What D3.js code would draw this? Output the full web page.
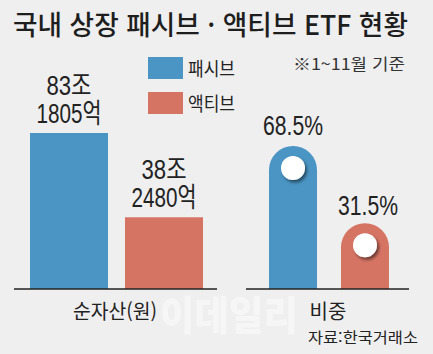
<!DOCTYPE html>
<html lang="ko">
<head>
<meta charset="UTF-8">
<script src="https://d3js.org/d3.v7.min.js"></script>
<style>
  body { margin: 0; background: #efefef; }
  svg { display: block; font-family: "Noto Sans CJK KR", sans-serif; }
</style>
</head>
<body>
<svg id="chart" width="433" height="354"></svg>
<script>
// values
const categories = ["패시브", "액티브"];
const assets = [83.1805, 38.248];           // 순자산, 조원
const assetLabels = [["83조", "1805억"], ["38조", "2480억"]];
const shares = [68.5, 31.5];                // 비중, %
const shareLabels = ["68.5%", "31.5%"];
const colors = ["#4a95c4", "#d67464"];

const svg = d3.select("#chart");
const baseY = 289;
const numFont = "'Liberation Sans', 'Noto Sans CJK KR', sans-serif";

// drop shadow for the white knobs
const defs = svg.append("defs");
const f = defs.append("filter").attr("id", "sh").attr("x", "-50%").attr("y", "-50%").attr("width", "200%").attr("height", "200%");
f.append("feDropShadow").attr("dx", 2).attr("dy", 2.5).attr("stdDeviation", 1.8).attr("flood-color", "#000").attr("flood-opacity", 0.5);

// title
svg.append("text").attr("x", 13).attr("y", 35)
  .attr("font-size", 27).attr("font-weight", 500).attr("fill", "#1e1e1e")
  .attr("textLength", 395).attr("lengthAdjust", "spacingAndGlyphs")
  .text("국내 상장 패시브 · 액티브 ETF 현황");

svg.append("text").attr("x", 293).attr("y", 70)
  .attr("font-size", 16).attr("fill", "#333")
  .attr("textLength", 112).attr("lengthAdjust", "spacingAndGlyphs")
  .text("※1~11월 기준");

// legend
const leg = svg.append("g");
categories.forEach((c, i) => {
  leg.append("rect").attr("x", 148).attr("y", 57 + i * 35).attr("width", 35).attr("height", 22).attr("fill", colors[i]);
  leg.append("text").attr("x", 188).attr("y", 76 + i * 35)
    .attr("font-size", 19).attr("fill", "#222")
    .attr("textLength", 47).attr("lengthAdjust", "spacingAndGlyphs").text(c);
});

// watermark
svg.append("text").attr("x", 229).attr("y", 330).attr("text-anchor", "middle")
  .attr("font-size", 40).attr("font-weight", 900).attr("fill", "#fff").attr("opacity", 0.45)
  .attr("textLength", 138).attr("lengthAdjust", "spacingAndGlyphs")
  .text("이데일리");

// left panel: net assets
const x1 = d3.scaleBand().domain(categories).range([30, 203]).paddingInner(0.179);
const y1 = d3.scaleLinear().domain([0, d3.max(assets)]).range([baseY, 133]);

svg.append("g").selectAll("rect").data(assets).join("rect")
  .attr("x", (d, i) => x1(categories[i]))
  .attr("y", d => y1(d))
  .attr("width", x1.bandwidth())
  .attr("height", d => baseY - y1(d))
  .attr("fill", (d, i) => colors[i]);

assets.forEach((d, i) => {
  const cx = x1(categories[i]) + x1.bandwidth() / 2;
  const top = y1(d);
  svg.append("text").attr("x", cx).attr("y", top - 38).attr("text-anchor", "middle")
    .attr("font-family", numFont).attr("font-size", 27).attr("fill", "#222")
    .attr("textLength", 45).attr("lengthAdjust", "spacingAndGlyphs")
    .text(assetLabels[i][0]);
  svg.append("text").attr("x", cx).attr("y", top - 10).attr("text-anchor", "middle")
    .attr("font-family", numFont).attr("font-size", 27).attr("fill", "#222")
    .attr("textLength", 65).attr("lengthAdjust", "spacingAndGlyphs")
    .text(assetLabels[i][1]);
});

svg.append("line").attr("x1", 14).attr("x2", 217).attr("y1", baseY).attr("y2", baseY)
  .attr("stroke", "#222").attr("stroke-width", 1.5);

svg.append("text").attr("x", 115).attr("y", 319).attr("text-anchor", "middle")
  .attr("font-size", 20).attr("fill", "#222")
  .attr("textLength", 84).attr("lengthAdjust", "spacingAndGlyphs").text("순자산(원)");

// right panel: share
const x2 = d3.scaleBand().domain(categories).range([269, 389]).paddingInner(1 / 3);
const y2 = d3.scaleLinear().domain([0, d3.max(shares)]).range([baseY, 146]);
const w = x2.bandwidth(), r = w / 2;

shares.forEach((d, i) => {
  const x = x2(categories[i]), top = y2(d);
  svg.append("path")
    .attr("d", `M${x},${baseY}L${x},${top + r}A${r},${r} 0 0 1 ${x + w},${top + r}L${x + w},${baseY}Z`)
    .attr("fill", colors[i]);
  svg.append("circle").attr("cx", x + r).attr("cy", top + r - 2).attr("r", 12)
    .attr("fill", "#fff").attr("filter", "url(#sh)");
  svg.append("text").attr("x", x + r + (i ? 3 : 0)).attr("y", top - (i ? 8 : 11)).attr("text-anchor", "middle")
    .attr("font-family", numFont).attr("font-size", 27).attr("fill", "#222")
    .attr("textLength", 60).attr("lengthAdjust", "spacingAndGlyphs")
    .text(shareLabels[i]);
});

svg.append("line").attr("x1", 246).attr("x2", 409).attr("y1", baseY).attr("y2", baseY)
  .attr("stroke", "#222").attr("stroke-width", 1.5);

svg.append("text").attr("x", 328).attr("y", 319).attr("text-anchor", "middle")
  .attr("font-size", 20).attr("fill", "#222").text("비중");

svg.append("text").attr("x", 418).attr("y", 343).attr("text-anchor", "end")
  .attr("font-size", 15).attr("fill", "#222")
  .attr("textLength", 110).attr("lengthAdjust", "spacingAndGlyphs").text("자료:한국거래소");
</script>
</body>
</html>
